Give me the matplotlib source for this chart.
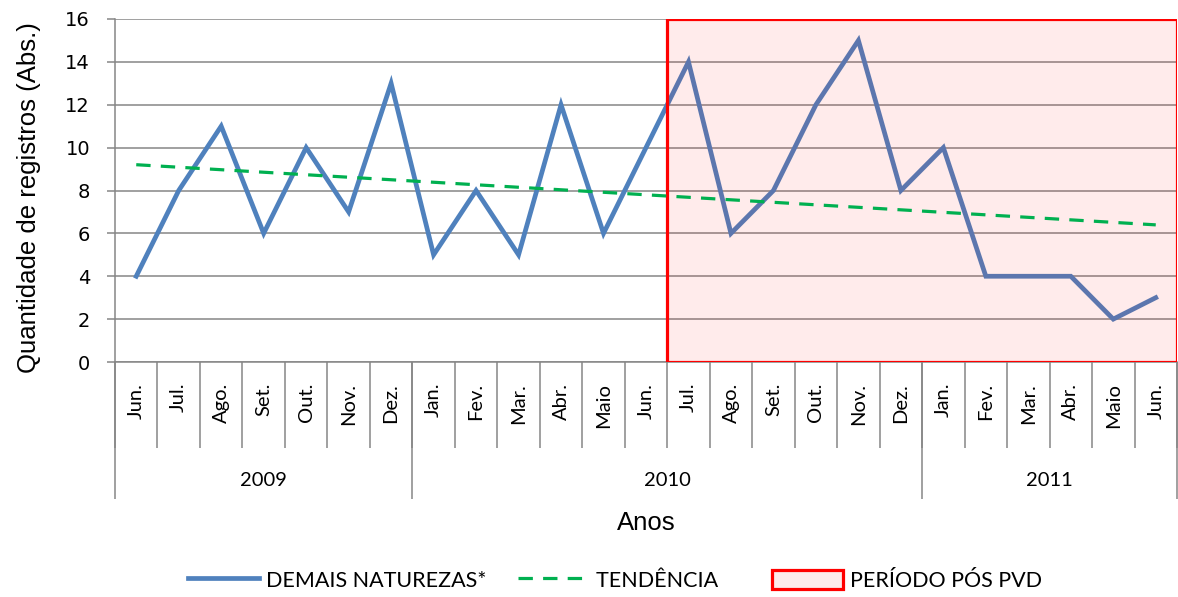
import numpy as np
import matplotlib
matplotlib.use('Agg')
import matplotlib.pyplot as plt
from matplotlib.lines import Line2D
from matplotlib.patches import Rectangle, Patch
import matplotlib.transforms as mtransforms

months = ['Jun.', 'Jul.', 'Ago.', 'Set.', 'Out.', 'Nov.', 'Dez.',
          'Jan.', 'Fev.', 'Mar.', 'Abr.', 'Maio', 'Jun.',
          'Jul.', 'Ago.', 'Set.', 'Out.', 'Nov.', 'Dez.',
          'Jan.', 'Fev.', 'Mar.', 'Abr.', 'Maio', 'Jun.']
values = [4, 8, 11, 6, 10, 7, 13, 5, 8, 5, 12, 6, 10,
          14, 6, 8, 12, 15, 8, 10, 4, 4, 4, 2, 3]
years = ['2009', '2010', '2011']
year_counts = [7, 12, 6]
pos_start = 13  # Jul. 2010, first month after PVD

x = np.arange(len(values))
coef = np.polyfit(x, values, 1)
trend = np.polyval(coef, x)

grid_c = '#868686'
cal = ['Lato', 'DejaVu Sans']

fig = plt.figure(figsize=(11.78, 5.97), dpi=100)
ax = fig.add_axes([115/1178, 1-362/597, 1062/1178, 343/597])

ax.plot(x, values, color='#4F81BD', lw=3.4, zorder=3, solid_joinstyle='miter')
ax.add_patch(Rectangle((pos_start-0.5, 0), len(values)-pos_start, 16,
                       facecolor=(1, 0, 0, 0.08), edgecolor='#FF0000', lw=2.3, zorder=4))
ax.plot(x, trend, color='#00B050', lw=2.3, ls=(0, (4.5, 3.2)), zorder=5)

ax.set_xlim(-0.5, len(values)-0.5)
ax.set_ylim(0, 16)
ax.set_yticks(np.arange(0, 17, 2))
ax.yaxis.grid(True, color=grid_c, lw=1.1)
ax.set_axisbelow(True)
for s in ['top', 'right']:
    ax.spines[s].set_visible(False)
ax.spines['left'].set_color(grid_c)
ax.spines['bottom'].set_color(grid_c)
ax.spines['left'].set_linewidth(1.1)
ax.spines['bottom'].set_linewidth(1.1)
ax.tick_params(axis='y', direction='out', length=6, color=grid_c, width=1.1,
               labelsize=14, pad=12)

ax.set_xticks(x)
ax.set_xticklabels(months, rotation=90, fontsize=14.5, family=cal)
ax.tick_params(axis='x', length=0, pad=15)

trans = mtransforms.blended_transform_factory(ax.transData, ax.transAxes)
bounds = np.arange(len(values)+1) - 0.5
ax.vlines(bounds, -0.25, 0, transform=trans, color=grid_c, lw=1.1, clip_on=False)
edges = np.concatenate([[0], np.cumsum(year_counts)]) - 0.5
ax.vlines(edges, -0.40, 0, transform=trans, color=grid_c, lw=1.1, clip_on=False)
for i, yr in enumerate(years):
    ax.text((edges[i]+edges[i+1])/2, -0.345, yr, transform=trans, ha='center',
            va='center', fontsize=14.5, family=cal)

ax.set_ylabel('Quantidade de registros (Abs.)', fontsize=18.5, family='Liberation Sans')
ax.yaxis.set_label_coords(-0.07, 0.48)
ax.set_xlabel('Anos', fontsize=18.5, family='Liberation Sans', labelpad=0)
ax.xaxis.set_label_coords(0.5, -0.435)

handles = [Line2D([], [], color='#4F81BD', lw=3.4),
           Line2D([], [], color='#00B050', lw=2.3, ls=(0, (4.5, 3.2))),
           Patch(facecolor='#FDEBEB', edgecolor='#FF0000', lw=2.3)]
labels = ['DEMAIS NATUREZAS*', 'TENDÊNCIA    ', 'PERÍODO PÓS PVD']
fig.legend(handles, labels, loc='center', bbox_to_anchor=(0.522, 0.028), ncol=3,
           frameon=False, prop={'family': cal, 'size': 15.5}, handlelength=3.3,
           handleheight=1.0, handletextpad=0.3, columnspacing=1.5)

fig.savefig('out.png', dpi=100)
